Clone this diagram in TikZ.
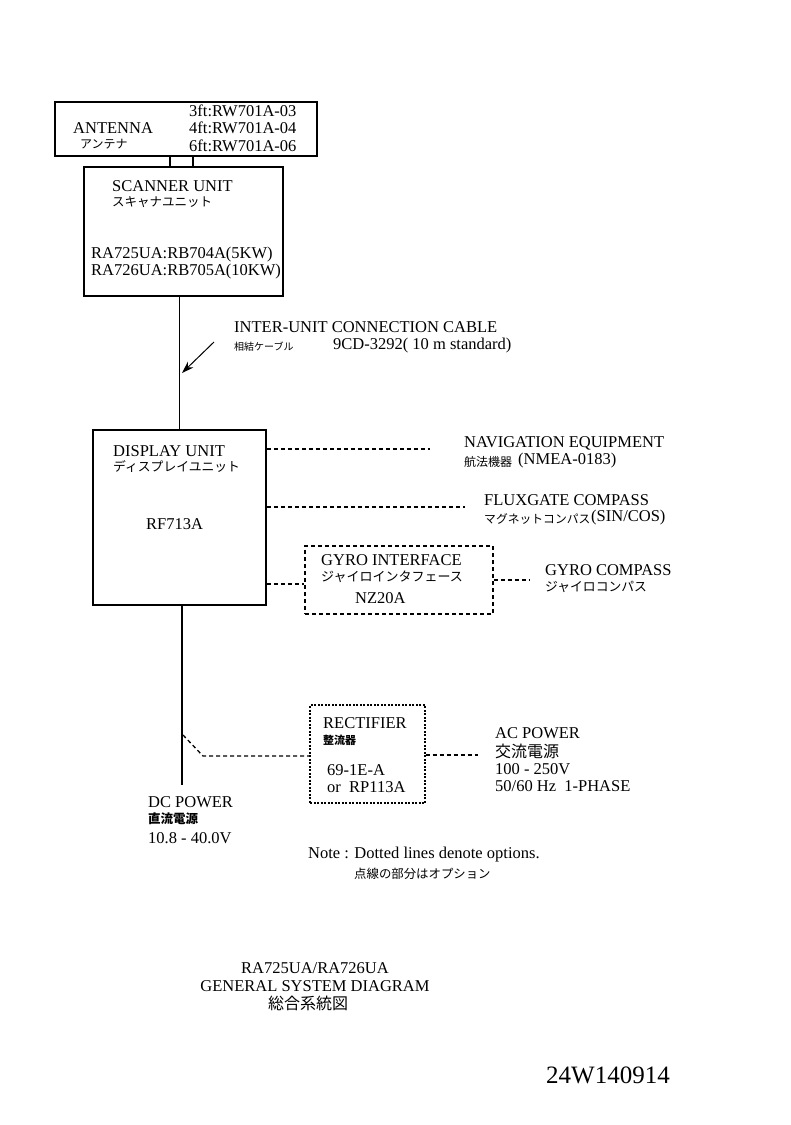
\documentclass[tikz,border=0pt]{standalone}
\usepackage{fontspec}
\setmainfont{Liberation Serif}
\newfontfamily\jp{Noto Sans CJK JP}
\usetikzlibrary{arrows.meta}
\tikzset{
  box/.style={draw,line width=1.8pt,inner sep=0pt},
  optbox/.style={draw,line width=1.4pt,dash pattern=on 4pt off 3pt,inner sep=0pt},
  dotbox/.style={draw,line width=1.4pt,dash pattern=on 2pt off 1.5pt,inner sep=0pt},
  dsh/.style={line width=1.3pt,dash pattern=on 4pt off 3pt},
  wire/.style={line width=1.8pt},
  en/.style={anchor=west,inner sep=0pt,font=\fontsize{16.5}{18}\selectfont},
  ja/.style={anchor=west,inner sep=0pt,font=\jp\fontsize{12.5}{14}\selectfont},
}
\begin{document}
\begin{tikzpicture}[x=1pt,y=-1pt]
\useasboundingbox[fill=white] (0,0) rectangle (791,1125);
% boxes
\node[box,minimum width=262pt,minimum height=54pt] (ant) at (186,129) {};
\node[box,minimum width=199pt,minimum height=129pt] (scan) at (183.5,231.5) {};
\node[box,minimum width=173pt,minimum height=175pt] (disp) at (179.5,517.5) {};
\node[optbox,minimum width=188pt,minimum height=68pt] (gif) at (399,580) {};
\node[dotbox,minimum width=115pt,minimum height=98pt] (rect) at (367.5,754) {};
% antenna texts
\node[en] (antt) at (73,128) {ANTENNA};
\node[ja,font=\jp\fontsize{12}{14}\selectfont] (antj) at (80,144) {アンテナ};
\node[en] (a3) at (189,111) {3ft:RW701A-03};
\node[en] (a4) at (189,128) {4ft:RW701A-04};
\node[en] (a6) at (189,146) {6ft:RW701A-06};
% scanner texts
\node[en] (scant) at (112,186) {SCANNER UNIT};
\node[ja] (scanj) at (112,202) {スキャナユニット};
\node[en] (s1) at (91,255) {RA725UA:RB704A(5KW)};
\node[en] (s2) at (91,272) {RA726UA:RB705A(10KW)};
% cable
\node[en] (cab) at (234,327) {INTER-UNIT CONNECTION CABLE};
\node[ja,font=\jp\fontsize{10}{12}\selectfont] (cabj) at (234,347) {相結ケーブル};
\node[en] (cabn) at (333,346) {9CD-3292( 10 m standard)};
% display texts
\node[en] (dispt) at (113,451) {DISPLAY UNIT};
\node[ja,font=\jp\fontsize{12.8}{14}\selectfont] (dispj) at (113,467) {ディスプレイユニット};
\node[en] (dispm) at (146,524) {RF713A};
% navigation
\node[en] (nav) at (464,443) {NAVIGATION EQUIPMENT};
\node[ja,font=\jp\fontsize{12}{14}\selectfont] (navj) at (464,462) {航法機器};
\node[en] (navn) at (518,461) {(NMEA-0183)};
% fluxgate
\node[en] (flux) at (484,500) {FLUXGATE COMPASS};
\node[ja,font=\jp\fontsize{11.8}{14}\selectfont] (fluxj) at (484,519) {マグネットコンパス};
\node[en] (fluxn) at (591,518) {(SIN/COS)};
% gyro interface
\node[en] (gift) at (321,560) {GYRO INTERFACE};
\node[ja,font=\jp\fontsize{13}{15}\selectfont] (gifj) at (321,577) {ジャイロインタフェース};
\node[en] (gifm) at (355,598) {NZ20A};
% gyro compass
\node[en] (gyc) at (545,570) {GYRO COMPASS};
\node[ja,font=\jp\fontsize{12.8}{15}\selectfont] (gycj) at (545,587) {ジャイロコンパス};
% rectifier
\node[en] (rct) at (323,723) {RECTIFIER};
\node[ja,font=\jp\bfseries\fontsize{11}{13}\selectfont] (rcj) at (323,740) {整流器};
\node[en] (rm1) at (327,770) {69-1E-A};
\node[en] (rm2) at (327,787) {or\ \ RP113A};
% AC power
\node[en] (ac) at (495,733) {AC POWER};
\node[ja,font=\jp\fontsize{16}{18}\selectfont] (acj) at (495,751) {交流電源};
\node[en] (acv) at (495,769) {100 - 250V};
\node[en] (acf) at (495,786) {50/60 Hz\ \ 1-PHASE};
% DC power
\node[en] (dc) at (148,802) {DC POWER};
\node[ja,font=\jp\bfseries\fontsize{12.5}{14}\selectfont] (dcj) at (148,819) {直流電源};
\node[en] (dcv) at (148,838) {10.8 - 40.0V};
% note
\node[en] (note) at (308,855) {Note : Dotted lines denote options.};
\node[ja,font=\jp\fontsize{12.4}{14}\selectfont] (notej) at (354,874) {点線の部分はオプション};
% title
\node[inner sep=0pt,font=\fontsize{16.5}{18}\selectfont] (t1) at (315,968) {RA725UA/RA726UA};
\node[inner sep=0pt,font=\fontsize{16.5}{18}\selectfont] (t2) at (315,986) {GENERAL SYSTEM DIAGRAM};
\node[inner sep=0pt,font=\jp\fontsize{16}{18}\selectfont] (t3) at (308,1003) {総合系統図};
\node[inner sep=0pt,anchor=west,font=\fontsize{25}{28}\selectfont] (dwg) at (546,1075) {24W140914};
% coordinates
\coordinate (a1) at (170,0);
\coordinate (a2) at (193,0);
\coordinate (navend) at (430,449);
\coordinate (fluxend) at (465,507);
\coordinate (gycend) at (530,580);
\coordinate (dcend) at (182,785);
\coordinate (tap) at (183,735);
\coordinate (bend) at (203,756);
\coordinate (acend) at (478,755);
\coordinate (arrS) at (214,342);
\coordinate (arrE) at (182,373);
% connectors
\draw[wire] (ant.south -| a1) -- (scan.north -| a1);
\draw[wire] (ant.south -| a2) -- (scan.north -| a2);
\draw[wire] (disp.north |- scan.south) -- (disp.north);
\draw[wire] (disp.south -| dcend) -- (dcend);
\draw[line width=1pt,-{Stealth[length=12pt,width=8pt]}] (arrS) -- (arrE);
\draw[dsh] (disp.east |- navend) -- (navend);
\draw[dsh] (disp.east |- fluxend) -- (fluxend);
\draw[dsh] (disp.east |- 0,584) -- (gif.west |- 0,584);
\draw[dsh] (gif.east |- gycend) -- (gycend);
\draw[dsh] (tap) -- (bend) -- (rect.west |- bend);
\draw[dsh] (rect.east |- acend) -- (acend);
\end{tikzpicture}
\end{document}
